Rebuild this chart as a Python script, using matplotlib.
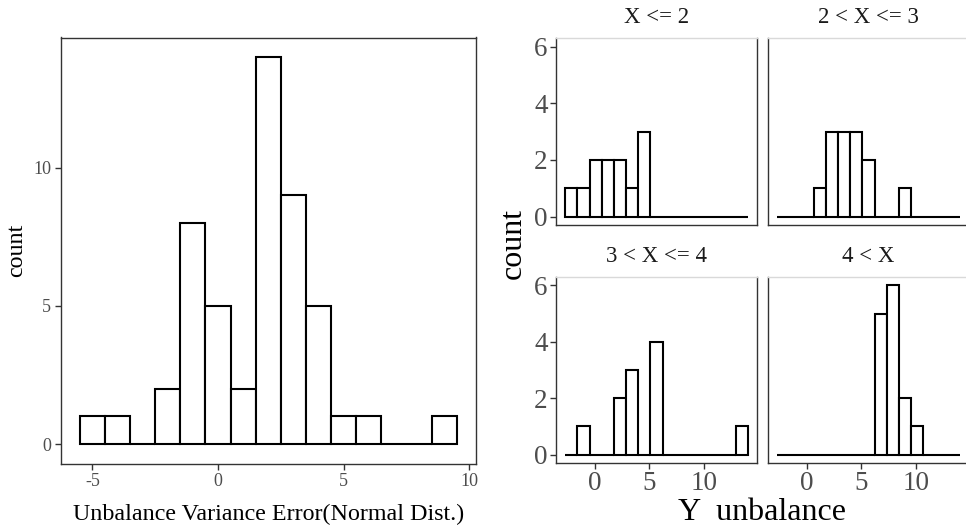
import matplotlib
matplotlib.use("Agg")
import matplotlib.pyplot as plt
import numpy as np

plt.rcParams['font.family'] = ['Liberation Serif', 'DejaVu Serif']
plt.rcParams['axes.unicode_minus'] = False

# ---- data: left histogram (bin centers, width 1) ----
left_centers = [-5, -4, -3, -2, -1, 0, 1, 2, 3, 4, 5, 6, 7, 8, 9]
left_counts = [1, 1, 0, 2, 8, 5, 2, 14, 9, 5, 1, 1, 0, 0, 1]
left_xticks = [-5, 0, 5, 10]
left_yticks = [0, 5, 10]

# ---- data: faceted histograms (shared bins) ----
facet_edges = [-2.74, -1.62, -0.50, 0.62, 1.74, 2.86, 3.97, 5.09, 6.21,
               7.33, 8.45, 9.57, 10.69, 11.81, 12.92, 14.04]
facet_titles = ["X <= 2", "2 < X <= 3", "3 < X <= 4", "4 < X"]
counts_x_le_2 = [1, 1, 2, 2, 2, 1, 3, 0, 0, 0, 0, 0, 0, 0, 0]
counts_2_3 = [0, 0, 0, 1, 3, 3, 3, 2, 0, 0, 1, 0, 0, 0, 0]
counts_3_4 = [0, 1, 0, 0, 2, 3, 0, 4, 0, 0, 0, 0, 0, 0, 1]
counts_gt_4 = [0, 0, 0, 0, 0, 0, 0, 0, 5, 6, 2, 1, 0, 0, 0]
facet_counts = [counts_x_le_2, counts_2_3, counts_3_4, counts_gt_4]
facet_xticks = [0, 5, 10]
facet_yticks = [0, 2, 4, 6]

W, H = 966, 528
fig = plt.figure(figsize=(W / 100, H / 100), dpi=100)


def rect(x0, y0, x1, y1):
    return [x0 / W, 1 - y1 / H, (x1 - x0) / W, (y1 - y0) / H]


TICK_GREY = "#4D4D4D"
LW = 1.5

# ---- left panel ----
ax = fig.add_axes(rect(61, 37.5, 475.5, 463.5))
ax.bar(left_centers, left_counts, width=1.0, color="white",
       edgecolor="black", linewidth=LW, align="center", zorder=2)
ax.set_xlim(-6.25, 10.25)
ax.set_ylim(-0.7, 14.7)
ax.set_xticks(left_xticks)
ax.set_yticks(left_yticks)
for s in ax.spines.values():
    s.set_color("#333333")
    s.set_linewidth(1.0)
ax.tick_params(axis="both", colors="#333333", labelcolor=TICK_GREY,
               labelsize=13, length=4, width=1.0, pad=3)
fig.text(268.5 / W, 1 - 514 / H, "Unbalance Variance Error(Normal Dist.)",
         fontsize=17.3, ha="center", va="center")
fig.text(17 / W, 1 - 250 / H, "count", fontsize=17.3, rotation=90,
         ha="center", va="center")

# ---- facets ----
facet_px = [(556, 38, 757, 225), (768, 38, 969, 225),
            (556, 277, 757, 463), (768, 277, 969, 463)]
widths = np.diff(facet_edges)
lefts = facet_edges[:-1]
for i, (px, title, counts) in enumerate(zip(facet_px, facet_titles,
                                              facet_counts)):
    fa = fig.add_axes(rect(*px))
    fa.bar(lefts, counts, width=widths, align="edge", color="white",
           edgecolor="black", linewidth=LW, zorder=2)
    fa.set_xlim(-3.58, 14.88)
    fa.set_ylim(-0.3, 6.3)
    fa.set_xticks(facet_xticks)
    fa.set_yticks(facet_yticks)
    for name, s in fa.spines.items():
        s.set_linewidth(1.0)
        s.set_color("#D9D9D9" if name == "top" else "#333333")
    fa.tick_params(axis="both", colors="#333333", labelcolor=TICK_GREY,
                   labelsize=19.5, length=4, width=1.0, pad=2)
    if i in (0, 1):
        fa.tick_params(axis="x", bottom=False, labelbottom=False)
    if i in (1, 3):
        fa.tick_params(axis="y", left=False, labelleft=False)
    cx = (px[0] + px[2]) / 2
    fig.text(cx / W, 1 - (px[1] - 20.5) / H, title, fontsize=16.5,
             ha="center", va="center", color="#1A1A1A")

fig.text(762.5 / W, 1 - 512 / H, "Y  unbalance", fontsize=23,
         ha="center", va="center")
fig.text(513 / W, 1 - 243 / H, "count", fontsize=23, rotation=90,
         ha="center", va="center")

fig.savefig("out.png", dpi=100)
